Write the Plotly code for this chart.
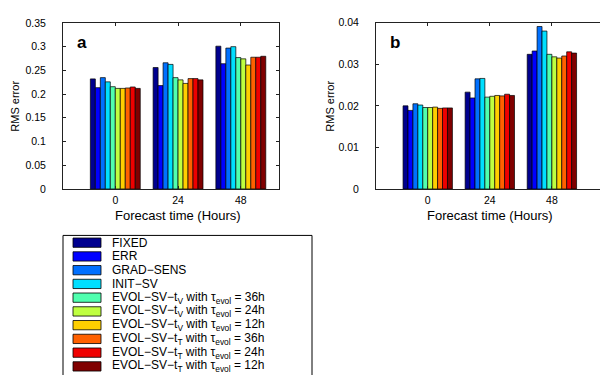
import plotly.graph_objects as go

W, H = 600, 375

hours = [0, 24, 48]
methods = ["FIXED", "ERR", "GRAD\u2212SENS", "INIT\u2212SV",
           "EVOL\u2212SV\u2212t<sub>V</sub> with \u03c4<sub>evol</sub> = 36h",
           "EVOL\u2212SV\u2212t<sub>V</sub> with \u03c4<sub>evol</sub> = 24h",
           "EVOL\u2212SV\u2212t<sub>V</sub> with \u03c4<sub>evol</sub> = 12h",
           "EVOL\u2212SV\u2212t<sub>T</sub> with \u03c4<sub>evol</sub> = 36h",
           "EVOL\u2212SV\u2212t<sub>T</sub> with \u03c4<sub>evol</sub> = 24h",
           "EVOL\u2212SV\u2212t<sub>T</sub> with \u03c4<sub>evol</sub> = 12h"]
colors = ["#00008f", "#0000ff", "#0070ff", "#00dfff", "#50ffaf",
          "#bfff40", "#ffcf00", "#ff6000", "#ef0000", "#800000"]

# panel a: RMS error per method at 0, 24, 48 h
rms_a = [
    [0.232, 0.256, 0.301],
    [0.2135, 0.218, 0.264],
    [0.2347, 0.266, 0.297],
    [0.2258, 0.2626, 0.300],
    [0.2156, 0.2347, 0.277],
    [0.212, 0.230, 0.2743],
    [0.212, 0.2225, 0.2613],
    [0.2129, 0.2327, 0.2777],
    [0.215, 0.2327, 0.2777],
    [0.212, 0.230, 0.2797],
]
# panel b
rms_b = [
    [0.0200, 0.0233, 0.0324],
    [0.0189, 0.0219, 0.0332],
    [0.0205, 0.0265, 0.0391],
    [0.0202, 0.0266, 0.0380],
    [0.0196, 0.0221, 0.0324],
    [0.0196, 0.0223, 0.0318],
    [0.0197, 0.0225, 0.0315],
    [0.0194, 0.0224, 0.0320],
    [0.0195, 0.0228, 0.0330],
    [0.0195, 0.0225, 0.0327],
]
ticks_a = [0, 0.05, 0.1, 0.15, 0.2, 0.25, 0.3, 0.35]
ticklabels_a = ["0", "0.05", "0.1", "0.15", "0.2", "0.25", "0.3", "0.35"]
ticks_b = [0, 0.01, 0.02, 0.03, 0.04]
ticklabels_b = ["0", "0.01", "0.02", "0.03", "0.04"]


def px(x):
    return x / W


def py(y):
    return 1 - y / H


FONT = "Liberation Sans, Arial, Helvetica, sans-serif"

fig = go.Figure()
for i, name in enumerate(methods):
    fig.add_trace(go.Bar(x=hours, y=rms_a[i], name=name, marker_color=colors[i],
                         marker_line=dict(color="black", width=0.7),
                         xaxis="x", yaxis="y", offsetgroup=str(i), showlegend=False))
    fig.add_trace(go.Bar(x=hours, y=rms_b[i], name=name, marker_color=colors[i],
                         marker_line=dict(color="black", width=0.7),
                         xaxis="x2", yaxis="y2", offsetgroup=str(i), showlegend=False))

axis_common = dict(showgrid=False, zeroline=False, showline=True, linecolor="#222",
                   linewidth=1, ticks="inside", ticklen=3, tickcolor="#222",
                   tickfont=dict(family=FONT, size=10.5, color="black"))

fig.update_layout(
    width=W, height=H, margin=dict(l=0, r=0, t=0, b=0),
    paper_bgcolor="white", plot_bgcolor="white",
    barmode="group", bargap=0.205, bargroupgap=0,
    font=dict(family=FONT, color="black"),
    xaxis=dict(domain=[px(63), px(279)], range=[-20, 62.6], tickvals=hours,
               ticktext=[str(h) for h in hours], anchor="y", mirror="ticks",
               ticklabelstandoff=1, **axis_common),
    yaxis=dict(domain=[py(189), py(17.5)], range=[0, 0.35], tickvals=ticks_a,
               ticktext=ticklabels_a, anchor="x", mirror="ticks",
               ticklabelstandoff=14, **axis_common),
    xaxis2=dict(domain=[px(376), 1.0], range=[-20, 66.6], tickvals=hours,
                ticktext=[str(h) for h in hours], anchor="y2", mirror="ticks",
                ticklabelstandoff=1, **axis_common),
    yaxis2=dict(domain=[py(189), py(17.3)], range=[0, 0.04], tickvals=ticks_b,
                ticktext=ticklabels_b, anchor="x2", mirror=False,
                ticklabelstandoff=14, **axis_common),
)

ann = []
# panel letters
ann.append(dict(x=px(75), y=py(38), xref="paper", yref="paper", text="<b>a</b>",
                showarrow=False, xanchor="left", yanchor="middle",
                font=dict(family=FONT, size=17, color="black")))
ann.append(dict(x=px(388), y=py(38), xref="paper", yref="paper", text="<b>b</b>",
                showarrow=False, xanchor="left", yanchor="middle",
                font=dict(family=FONT, size=17, color="black")))
# axis titles
for xr, yc in (("x", 15), ("x2", 330)):
    ann.append(dict(x=24, y=py(216), xref=xr, yref="paper", text="Forecast time (Hours)",
                    showarrow=False, xanchor="center", yanchor="middle",
                    font=dict(family=FONT, size=13, color="black")))
    ann.append(dict(x=px(yc), y=py(104), xref="paper", yref="paper", text="RMS error",
                    showarrow=False, xanchor="center", yanchor="middle", textangle=-90,
                    font=dict(family=FONT, size=11, color="black")))

shapes = []
# legend box
shapes.append(dict(type="rect", xref="paper", yref="paper", x0=px(63), x1=px(312),
                   y0=py(385), y1=py(237), line=dict(color="black", width=1),
                   fillcolor="white", layer="above"))
for i, name in enumerate(methods):
    yc = 244.5 + 14.2 * i
    shapes.append(dict(type="rect", xref="paper", yref="paper", x0=px(73), x1=px(101),
                       y0=py(yc + 4.8), y1=py(yc - 4.8), fillcolor=colors[i],
                       line=dict(color="black", width=0.8), layer="above"))
    ann.append(dict(x=px(110), y=py(yc), xref="paper", yref="paper", text=name,
                    showarrow=False, xanchor="left", yanchor="middle",
                    font=dict(family=FONT, size=12, color="black")))

fig.update_layout(annotations=ann, shapes=shapes)
fig.write_html("out.html", config={"displayModeBar": False},
               post_script="document.body.style.margin='0';document.body.style.overflow='hidden';")
